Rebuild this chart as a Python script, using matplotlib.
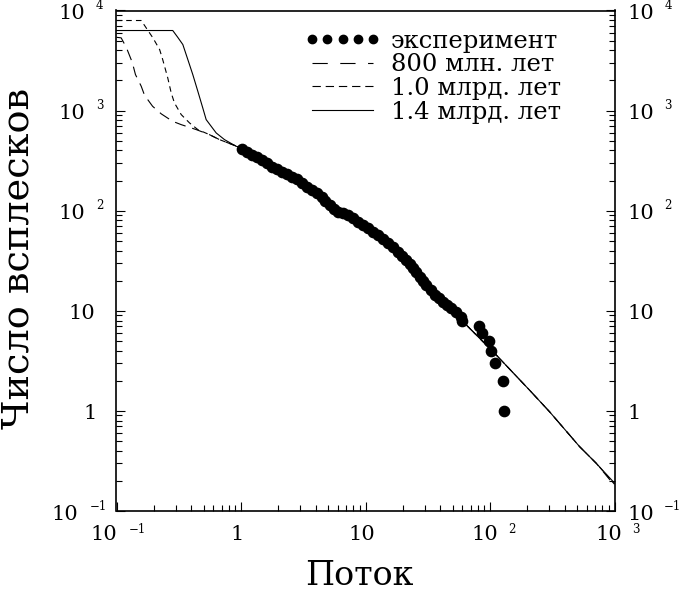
import matplotlib
matplotlib.use('Agg')
import matplotlib.pyplot as plt
import matplotlib.transforms as mtransforms
from matplotlib.lines import Line2D

plt.rcParams['font.family'] = ['DejaVu Serif']
plt.rcParams['lines.scale_dashes'] = False

# ---- data -------------------------------------------------------------
exp_flux = [1.01, 1.108, 1.216, 1.334, 1.463, 1.604, 1.760, 1.930, 2.117, 2.321,
            2.546, 2.792, 3.063, 3.359, 3.686, 4.043, 4.433, 4.771, 5.17, 5.57,
            6.03, 6.61, 7.25, 7.96, 8.73, 9.57, 10.50, 11.51, 12.64, 13.85,
            15.19, 16.66, 18.28, 19.68, 21.32, 22.68, 24.12, 25.65, 27.28, 29.01,
            30.86, 33.43, 35.99, 38.76, 42.0, 45.5, 49.0, 53.7, 58.9, 60.0,
            81.1, 86.5, 97.3, 102.3, 110.7, 126.7, 129.0]
exp_count = [410, 383, 360, 341, 321, 297, 275, 259, 245, 233,
             219, 206, 191, 174, 161, 149, 138, 126, 114, 104,
             97.8, 94.1, 90.6, 83.9, 77.7, 72.0, 66.6, 61.7, 57.2, 51.8,
             47.2, 43.1, 39.0, 35.6, 32.2, 29.3, 26.6, 24.2, 21.9, 20.0,
             18.1, 16.1, 14.4, 13.3, 12.3, 11.4, 10.6, 9.8, 8.7, 8.0,
             7, 6, 5, 4, 3, 2, 1]

m800_flux = [0.1, 0.109, 0.120, 0.134, 0.142, 0.158, 0.168, 0.195, 0.229, 0.282,
             0.331, 0.437, 0.558, 0.672, 0.97, 1.5, 2.5, 4.0, 6.0, 10, 15, 25,
             40, 64.4, 112, 207, 301, 524, 713, 1000]
m800_count = [5400, 5330, 4266, 3020, 2290, 1750, 1422, 1104, 927, 782,
              724, 646, 575, 513, 430, 320, 215, 150, 100, 68, 47, 25,
              13.2, 7.24, 3.63, 1.62, 0.98, 0.44, 0.30, 0.18]

m10_flux = [0.1, 0.158, 0.173, 0.196, 0.222, 0.235, 0.258, 0.275, 0.292, 0.331,
            0.386, 0.45, 0.558, 0.672, 0.97, 1.5, 2.5, 4.0, 6.0, 10, 15, 25,
            40, 64.4, 112, 207, 301, 524, 713, 1000]
m10_count = [7943, 7943, 6714, 5330, 4074, 3236, 2123, 1503, 1194, 912,
             753, 646, 575, 513, 430, 320, 215, 150, 100, 68, 47, 25,
             13.2, 7.24, 3.63, 1.62, 0.98, 0.44, 0.30, 0.185]

m14_flux = [0.1, 0.283, 0.310, 0.341, 0.374, 0.410, 0.450, 0.493, 0.525, 0.576,
            0.632, 0.737, 0.914, 1.0, 1.5, 2.5, 4.0, 6.0, 10, 15, 25,
            40, 64.4, 112, 207, 301, 524, 713, 1000]
m14_count = [6310, 6310, 5410, 4571, 3236, 2290, 1560, 1064, 813, 697,
             598, 513, 440, 430, 320, 215, 150, 100, 68, 47, 25,
             13.2, 7.24, 3.63, 1.62, 0.98, 0.44, 0.30, 0.19]

legend_labels = ['эксперимент', '800 млн. лет', '1.0 млрд. лет', '1.4 млрд. лет']
x_label = 'Поток'
y_label = 'Число всплесков'

x_ticks = [0.1, 1, 10, 100, 1000]
x_tick_base = ['10', '1', '10', '10', '10']
x_tick_exp = ['\u22121', '', '', '2', '3']
y_ticks = [0.1, 1, 10, 100, 1000, 10000]
y_tick_base = ['10', '1', '10', '10', '10', '10']
y_tick_exp = ['\u22121', '', '', '2', '3', '4']

# ---- figure -----------------------------------------------------------
W, H = 682, 594
fig = plt.figure(figsize=(W / 100, H / 100), dpi=100)
ax = fig.add_axes([116.5 / W, 1 - 511 / H, 498 / W, 500.5 / H])
ax.set_xscale('log')
ax.set_yscale('log')

LW = 0.8
ax.plot(m800_flux, m800_count, color='k', lw=LW, ls=(0, (8, 5)))
ax.plot(m10_flux, m10_count, color='k', lw=LW, ls=(0, (4, 3)))
ax.plot(m14_flux, m14_count, color='k', lw=LW, ls='-')
ax.plot(exp_flux, exp_count, ls='none', marker='o', ms=7.4, color='k', mec='k')

ax.set_xlim(0.1, 1000)
ax.set_ylim(0.1, 1e4)

for s in ax.spines.values():
    s.set_linewidth(1.2)
ax.tick_params(which='both', direction='in', top=False, right=True,
               labelleft=False, labelbottom=False, width=0.8)
ax.tick_params(which='major', length=6.5)
ax.tick_params(which='minor', length=4.3)
ax.set_xticks(x_ticks)
ax.set_yticks(y_ticks)


def off(dx, dy):
    return mtransforms.ScaledTranslation(dx / 100.0, dy / 100.0, fig.dpi_scale_trans)


FS = 15
FSE = 8.5
xt = ax.get_xaxis_transform()
yt = ax.get_yaxis_transform()

# x tick labels
for t, b, e in zip(x_ticks, x_tick_base, x_tick_exp):
    if e == '':
        ax.text(t, 0, b, transform=xt + off(-4, -14), ha='center', va='top', fontsize=FS)
    elif e.startswith('\u2212'):
        ax.text(t, 0, b, transform=xt + off(1, -14), ha='right', va='top', fontsize=FS)
        ax.text(t, 0, e, transform=xt + off(12, -12), ha='left', va='top', fontsize=FSE)
    else:
        ax.text(t, 0, b, transform=xt + off(8, -14), ha='right', va='top', fontsize=FS)
        ax.text(t, 0, e, transform=xt + off(18, -12), ha='left', va='top', fontsize=FSE)

# y tick labels, left and right
for t, b, e in zip(y_ticks, y_tick_base, y_tick_exp):
    if e == '':
        cx = -35 if b == '10' else -26.5
        ax.text(0, t, b, transform=yt + off(cx, -3), ha='center', va='center', fontsize=FS)
        ax.text(1, t, b, transform=yt + off(12.5, -3), ha='left', va='center', fontsize=FS)
    elif e.startswith('\u2212'):
        ax.text(0, t, b, transform=yt + off(-38.5, -3), ha='right', va='center', fontsize=FS)
        ax.text(0, t, e, transform=yt + off(-26.5, 5), ha='left', va='center', fontsize=FSE)
        ax.text(1, t, b, transform=yt + off(12.5, -3), ha='left', va='center', fontsize=FS)
        ax.text(1, t, e, transform=yt + off(49, 5), ha='left', va='center', fontsize=FSE)
    else:
        ax.text(0, t, b, transform=yt + off(-31.5, -3), ha='right', va='center', fontsize=FS)
        ax.text(0, t, e, transform=yt + off(-20.5, 5), ha='left', va='center', fontsize=FSE)
        ax.text(1, t, b, transform=yt + off(12.5, -3), ha='left', va='center', fontsize=FS)
        ax.text(1, t, e, transform=yt + off(50, 5), ha='left', va='center', fontsize=FSE)

ax.set_xlabel(x_label, fontsize=24)
ax.xaxis.set_label_coords(0.487, -0.097)
ax.set_ylabel(y_label, fontsize=27.5)
ax.yaxis.set_label_coords(-0.160, 0.505)

handles = [
    Line2D([], [], ls='none', marker='o', ms=6, color='k'),
    Line2D([], [], lw=LW, color='k', ls=(0, (11, 9))),
    Line2D([], [], lw=LW, color='k', ls=(0, (6, 3.5))),
    Line2D([], [], lw=LW, color='k', ls='-'),
]
ax.legend(handles, legend_labels, loc='upper left', bbox_to_anchor=(0.3785, 0.962),
          frameon=False, fontsize=17.5, handlelength=3.1, handletextpad=0.45,
          labelspacing=0.03, numpoints=5, borderpad=0, borderaxespad=0)

fig.savefig('out.png', dpi=100)
